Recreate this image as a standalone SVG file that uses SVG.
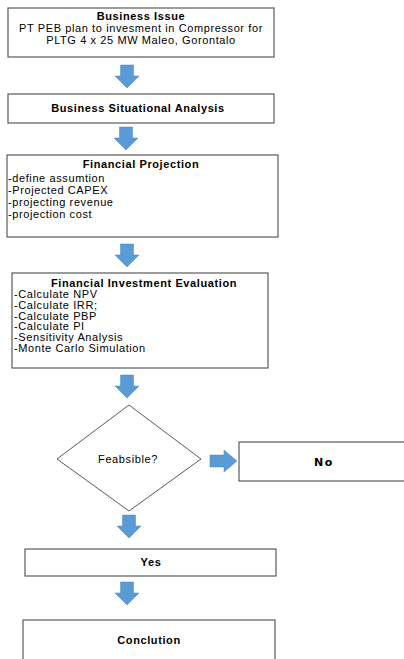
<svg xmlns="http://www.w3.org/2000/svg" width="404" height="659" viewBox="0 0 404 659">
<defs>
<style>
.box{fill:#fff;stroke:#5a5a5a;stroke-width:1.2}
.t{font-family:"Liberation Sans",Arial,sans-serif;font-size:11px;letter-spacing:0.6px;fill:#000}
.b{font-weight:bold}
.c{text-anchor:middle}
.arr{fill:#5b9bd5;stroke:#4a86c0;stroke-width:0.5}
</style>
<path id="down" d="M-6.5,0 H6.5 V11 H12 L0,23 L-12,11 H-6.5 Z"/>
</defs>
<rect width="404" height="659" fill="#fff"/>
<g id="connectors">
<use href="#down" class="arr" x="127" y="65"/>
<use href="#down" class="arr" x="126" y="127"/>
<use href="#down" class="arr" x="127" y="244"/>
<use href="#down" class="arr" x="127" y="375"/>
<path class="arr" d="M210,455 H224 V450 L237,461 L224,472 V467 H210 Z"/>
<use href="#down" class="arr" x="129" y="515"/>
<use href="#down" class="arr" x="127" y="582"/>
</g>
<g id="n1">
<rect class="box" x="8" y="8" width="266" height="49"/>
<text class="t b c" x="141" y="20">Business Issue</text>
<text class="t c" x="141" y="32">PT PEB plan to invesment in Compressor for</text>
<text class="t c" x="141" y="44">PLTG 4 x 25 MW Maleo, Gorontalo</text>
</g>
<g id="n2">
<rect class="box" x="8" y="94" width="266" height="29"/>
<text class="t b c" x="138" y="112">Business Situational Analysis</text>
</g>
<g id="n3">
<rect class="box" x="7" y="155" width="271" height="82"/>
<text class="t b c" x="141" y="168">Financial Projection</text>
<text class="t" x="8" y="182">-define assumtion</text>
<text class="t" x="8" y="194">-Projected CAPEX</text>
<text class="t" x="8" y="206">-projecting revenue</text>
<text class="t" x="8" y="218">-projection cost</text>
</g>
<g id="n4">
<rect class="box" x="12" y="273" width="256" height="95"/>
<text class="t b c" x="144" y="287">Financial Investment Evaluation</text>
<text class="t" x="14" y="298">-Calculate NPV</text>
<text class="t" x="14" y="309">-Calculate IRR;</text>
<text class="t" x="14" y="319.5">-Calculate PBP</text>
<text class="t" x="14" y="330">-Calculate PI</text>
<text class="t" x="14" y="341">-Sensitivity Analysis</text>
<text class="t" x="14" y="351.5">-Monte Carlo Simulation</text>
</g>
<g id="n5">
<polygon class="box" points="129,405 201,459 129,511 57,459" style="stroke-width:1"/>
<text class="t c" x="128" y="463">Feabsible?</text>
</g>
<g id="n6">
<rect class="box" x="239" y="442" width="170" height="39"/>
<text class="c b" x="324" y="466" style="font-family:'DejaVu Sans',Verdana,sans-serif;font-size:11px;letter-spacing:1.5px">No</text>
</g>
<g id="n7">
<rect class="box" x="25" y="549" width="251" height="27"/>
<text class="t b c" x="151" y="566">Yes</text>
</g>
<g id="n8">
<rect class="box" x="23" y="620" width="252" height="45"/>
<text class="t b c" x="149" y="644">Conclution</text>
</g>
</svg>
